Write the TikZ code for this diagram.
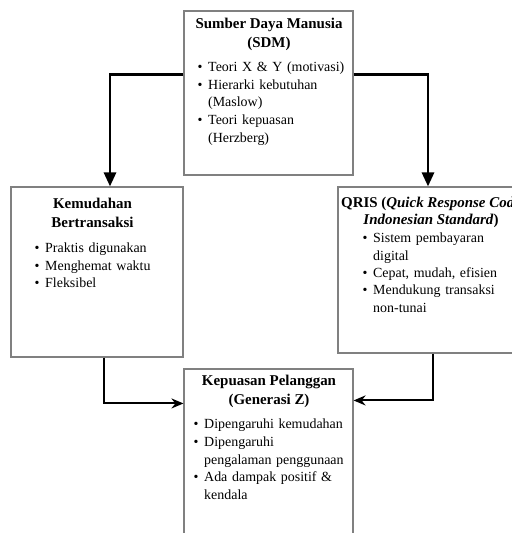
\documentclass[tikz,border=0pt]{standalone}
\usepackage{fontspec}
\setmainfont{Liberation Serif}
\usetikzlibrary{arrows.meta}
\tikzset{
  box/.style={draw=black!50, line width=1.1bp, inner sep=0pt, rectangle},
  ttl/.style={font=\fontsize{15}{19}\selectfont\bfseries, align=center, inner sep=0pt, anchor=north},
  body/.style={font=\fontsize{14}{18}\selectfont, align=left, inner sep=0pt, anchor=north west, text width=165bp},
  bigarrow/.style={line width=2.8bp, -{Triangle[length=14bp,width=12bp]}},
  midarrow/.style={line width=2bp, -{Stealth[length=12bp,width=10bp]}},
}
\newcommand{\bitem}[1]{\par\noindent\hangindent=10.5bp\hangafter=1\relax\makebox[10.5bp][l]{\textbullet}#1\par}
\begin{document}
\begin{tikzpicture}[x=1bp,y=-1bp]
\useasboundingbox (0,0) rectangle (512,533);
% boxes
\node[box, minimum width=169bp, minimum height=164bp] (topbox) at (268.5,93) {};
\node[box, minimum width=172bp, minimum height=170bp] (leftbox) at (97,272) {};
\node[box, minimum width=186bp, minimum height=166bp] (rightbox) at (431,270) {};
\node[box, minimum width=169bp, minimum height=176bp] (botbox) at (268.5,457) {};
% texts
\node[ttl] (toptitle) at (269,18) {Sumber Daya Manusia\\(SDM)};
\node[body] (topbody) at (197.5,53) {\bitem{Teori X \& Y (motivasi)}\bitem{Hierarki kebutuhan\newline(Maslow)}\bitem{Teori kepuasan\newline(Herzberg)}};
\node[ttl] (lefttitle) at (92.5,198) {Kemudahan\\Bertransaksi};
\node[body] (leftbody) at (34.5,234) {\bitem{Praktis digunakan}\bitem{Menghemat waktu}\bitem{Fleksibel}};
\node[ttl, font=\fontsize{15}{17}\selectfont\bfseries] (righttitle) at (431,197) {QRIS (\textit{Quick Response Code}\\\textit{Indonesian Standard})};
\node[body, font=\fontsize{14}{17.5}\selectfont] (rightbody) at (362.5,225) {\bitem{Sistem pembayaran\newline digital}\bitem{Cepat, mudah, efisien}\bitem{Mendukung transaksi\newline non-tunai}};
\node[ttl] (bottitle) at (269,375) {Kepuasan Pelanggan\\(Generasi Z)};
\node[body] (botbody) at (193.5,410) {\bitem{Dipengaruhi kemudahan}\bitem{Dipengaruhi\newline pengalaman penggunaan}\bitem{Ada dampak positif \&\newline kendala}};
% connectors
\draw[bigarrow] ([yshift=-64bp]topbox.north west) -| ([xshift=13bp]leftbox.north);
\draw[bigarrow] ([yshift=-64bp]topbox.north east) -| ([xshift=-3bp]rightbox.north);
\draw[midarrow] ([xshift=7bp]leftbox.south) |- ([yshift=-35bp]botbox.north west);
\draw[midarrow] ([xshift=2bp]rightbox.south) |- ([yshift=-32bp]botbox.north east);
\end{tikzpicture}
\end{document}
